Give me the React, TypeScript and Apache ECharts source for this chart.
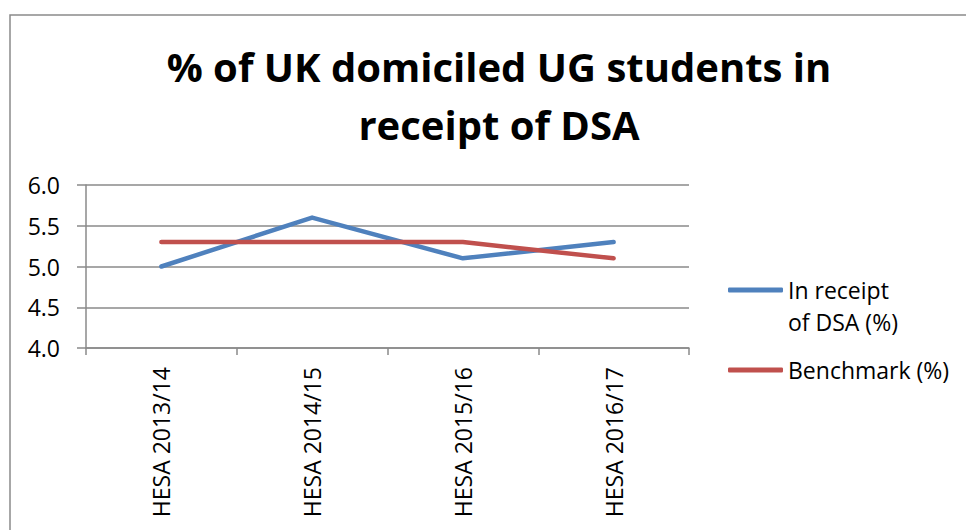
import React, { useEffect, useRef } from "react";
import * as echarts from "echarts";

const categories = ["HESA 2013/14", "HESA 2014/15", "HESA 2015/16", "HESA 2016/17"];
const dsaValues = [5.0, 5.6, 5.1, 5.3];
const benchmarkValues = [5.3, 5.3, 5.3, 5.1];
const seriesNames = ["In receipt of DSA (%)", "Benchmark (%)"];
const titleText = "% of UK domiciled UG students in\nreceipt of DSA";

const FONT = "'Open Sans', 'Noto Sans', sans-serif";

export default function App() {
  const ref = useRef<HTMLDivElement>(null);
  useEffect(() => {
    document.body.style.margin = "0";
    if (!ref.current) return;
    const chart = echarts.init(ref.current, undefined, { renderer: "svg" });
    chart.setOption({
      animation: false,
      backgroundColor: "#ffffff",
      textStyle: { fontFamily: FONT },
      title: {
        text: titleText,
        left: 494,
        textAlign: "center",
        top: 32,
        textStyle: {
          fontFamily: FONT,
          fontSize: 40,
          fontWeight: "bold",
          color: "#000000",
          lineHeight: 58,
        },
      },
      graphic: [
        {
          type: "rect",
          shape: { x: 10, y: 15, width: 1100, height: 700 },
          style: { fill: "none", stroke: "#8a8a8a", lineWidth: 1.5 },
          silent: true,
          z: -1,
        },
      ],
      legend: {
        orient: "vertical",
        left: 728,
        top: 242,
        padding: 0,
        itemGap: 16,
        itemWidth: 55,
        itemHeight: 5,
        icon: "roundRect",
        formatter: (name: string) => (name === seriesNames[0] ? "\nIn receipt\nof DSA (%)" : name),
        textStyle: { fontFamily: FONT, fontSize: 23, color: "#000000", lineHeight: 32 },
        data: [{ name: seriesNames[0] }, { name: seriesNames[1] }],
      },
      grid: { left: 86, right: 277, top: 185, bottom: 182 },
      xAxis: {
        type: "category",
        data: categories,
        boundaryGap: true,
        axisLine: { show: true, lineStyle: { color: "#8a8a8a", width: 1.5 } },
        axisTick: { show: true, length: 7, alignWithLabel: false, lineStyle: { color: "#8a8a8a", width: 1.5 } },
        axisLabel: { rotate: 90, margin: 19, fontSize: 23, color: "#000000", fontFamily: FONT },
      },
      yAxis: {
        type: "value",
        min: 4,
        max: 6,
        interval: 0.5,
        axisLine: { show: true, lineStyle: { color: "#8a8a8a", width: 1.5 } },
        axisTick: { show: true, length: 9, lineStyle: { color: "#8a8a8a", width: 1.5 } },
        splitLine: { show: true, lineStyle: { color: "#8a8a8a", width: 1.5 } },
        axisLabel: {
          margin: 26,
          fontSize: 23,
          color: "#000000",
          fontFamily: FONT,
          formatter: (v: number) => v.toFixed(1),
        },
      },
      series: [
        {
          name: seriesNames[0],
          type: "line",
          data: dsaValues,
          symbol: "none",
          color: "#4F81BD",
          lineStyle: { width: 4.5, color: "#4F81BD", cap: "round", join: "round" },
        },
        {
          name: seriesNames[1],
          type: "line",
          data: benchmarkValues,
          symbol: "none",
          color: "#C0504D",
          lineStyle: { width: 4.5, color: "#C0504D", cap: "round", join: "round" },
        },
      ],
    });
    return () => chart.dispose();
  }, []);
  return <div ref={ref} style={{ width: 966, height: 530, overflow: "hidden" }} />;
}
